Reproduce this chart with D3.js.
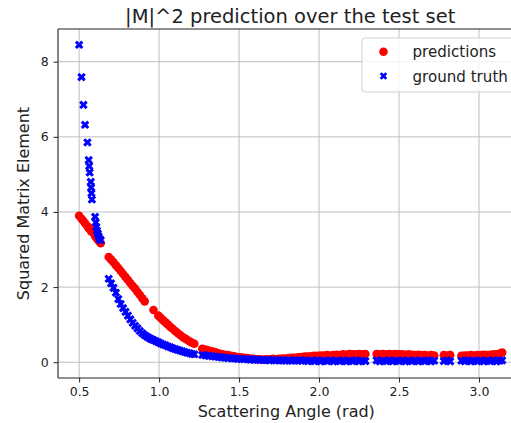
<!DOCTYPE html>
<html>
<head>
<meta charset="utf-8">
<script src="https://cdn.jsdelivr.net/npm/d3@7"></script>
<style>
  html, body { margin: 0; padding: 0; background: #fff; overflow: hidden; }
  svg { display: block; font-family: "DejaVu Sans", sans-serif; }
</style>
</head>
<body>
<div id="chart"></div>
<script>
// ---- data ----
const angles = [
  0.500, 0.515, 0.527, 0.537, 0.552, 0.560, 0.563, 0.566, 0.573, 0.575, 0.577, 0.580,
  0.600, 0.604, 0.608, 0.612, 0.617, 0.622, 0.628, 0.635,
  0.685, 0.700, 0.715, 0.730, 0.745, 0.760, 0.775, 0.790, 0.805, 0.820, 0.835, 0.850,
  0.865, 0.880, 0.895, 0.910, 0.925, 0.940, 0.953, 0.965, 0.980, 0.995,
  1.010, 1.025, 1.040, 1.055, 1.070, 1.085, 1.100, 1.115, 1.130, 1.145, 1.160, 1.175,
  1.190, 1.205, 1.220,
  1.27, 1.29, 1.31, 1.33, 1.35, 1.37, 1.39, 1.41, 1.43, 1.45, 1.47, 1.49, 1.51, 1.53,
  1.55, 1.57, 1.59, 1.61, 1.63, 1.65, 1.67, 1.69, 1.71, 1.73, 1.75, 1.77, 1.79, 1.81,
  1.83, 1.85, 1.87, 1.89, 1.91, 1.93, 1.95, 1.97, 1.99, 2.01, 2.03, 2.05, 2.07, 2.09,
  2.11, 2.13, 2.15, 2.17, 2.19, 2.21, 2.23, 2.25, 2.27, 2.29,
  2.36, 2.38, 2.40, 2.42, 2.44, 2.46, 2.48, 2.50, 2.52, 2.54, 2.56, 2.58, 2.60, 2.62,
  2.64, 2.66, 2.68, 2.70, 2.72,
  2.78, 2.80, 2.82,
  2.89, 2.91, 2.93, 2.95, 2.97, 2.99, 3.01, 3.03, 3.05, 3.07, 3.09, 3.11, 3.13, 3.145
];

const predictions = [
  3.90, 3.82, 3.76, 3.70, 3.62, 3.58, 3.56, 3.55, 3.51, 3.50, 3.49, 3.47,
  3.36, 3.34, 3.32, 3.30, 3.27, 3.24, 3.21, 3.17,
  2.80, 2.73, 2.66, 2.58, 2.51, 2.43, 2.35, 2.27, 2.19, 2.11, 2.03, 1.96,
  1.87, 1.79, 1.70, 1.62, null, null, null, 1.39, null, 1.24,
  1.18, 1.12, 1.06, 1.00, 0.94, 0.89, 0.83, 0.78, 0.73, 0.68, 0.64, 0.60,
  0.56, 0.52, 0.49,
  0.36, 0.34, 0.31, 0.29, 0.27, 0.24, 0.22, 0.20, 0.19, 0.17, 0.16, 0.14, 0.13, 0.12,
  0.11, 0.10, 0.09, 0.08, 0.08, 0.07, 0.08, 0.08, 0.09, 0.08, 0.09, 0.10, 0.10, 0.11,
  0.12, 0.12, 0.13, 0.14, 0.15, 0.15, 0.16, 0.17, 0.17, 0.18, 0.18, 0.19, 0.18, 0.19,
  0.20, 0.19, 0.21, 0.20, 0.22, 0.21, 0.21, 0.22, 0.21, 0.22,
  0.22, 0.21, 0.22, 0.21, 0.22, 0.21, 0.22, 0.21, 0.21, 0.20, 0.21, 0.20, 0.19, 0.20,
  0.19, 0.19, 0.18, 0.19, 0.18,
  0.19, 0.18, 0.19,
  0.17, 0.18, 0.18, 0.19, 0.18, 0.19, 0.19, 0.20, 0.19, 0.20, 0.21, 0.21, 0.23, 0.26
];

const groundTruth = [
  8.45, 7.59, 6.85, 6.32, 5.85, 5.38, 5.22, 5.05, 4.80, 4.65, 4.50, 4.33,
  3.87, 3.72, 3.60, 3.50, 3.42, 3.35, 3.28, 3.25,
  2.22, 2.10, 1.98, 1.85, 1.68, 1.55, 1.44, 1.34, 1.24, 1.14, 1.05, 0.97,
  0.90, 0.83, 0.77, 0.72, 0.68, 0.64, 0.61, 0.59, 0.56, 0.53,
  0.50, 0.47, 0.45, 0.42, 0.40, 0.37, 0.35, 0.33, 0.31, 0.29, 0.27, 0.25,
  0.24, 0.22, 0.21,
  0.19, 0.18, 0.17, 0.16, 0.15, 0.14, 0.13, 0.12, 0.11, 0.11, 0.10, 0.09, 0.09, 0.08,
  0.08, 0.07, 0.07, 0.07, 0.06, 0.06, 0.06, 0.05, 0.06, 0.05, 0.05, 0.05, 0.04, 0.05,
  0.04, 0.05, 0.04, 0.04, 0.05, 0.03, 0.04, 0.03, 0.05, 0.02, 0.04, 0.03, 0.05, 0.02,
  0.04, 0.03, 0.05, 0.02, 0.04, 0.03, 0.05, 0.02, 0.04, 0.03,
  0.05, 0.02, 0.04, 0.03, 0.05, 0.02, 0.04, 0.03, 0.05, 0.02, 0.04, 0.03, 0.05, 0.02,
  0.04, 0.03, 0.05, 0.02, 0.04,
  0.03, 0.05, 0.02,
  0.04, 0.03, 0.05, 0.02, 0.04, 0.03, 0.05, 0.02, 0.04, 0.03, 0.05, 0.02, 0.04, 0.05
];

const xTicks = [0.5, 1.0, 1.5, 2.0, 2.5, 3.0];
const yTicks = [0, 2, 4, 6, 8];
const xTickLabels = ["0.5", "1.0", "1.5", "2.0", "2.5", "3.0"];
const yTickLabels = ["0", "2", "4", "6", "8"];
const seriesNames = ["predictions", "ground truth"];
const seriesColors = ["#ff0000", "#0000ff"];
const titleText = "|M|^2 prediction over the test set";
const xLabelText = "Scattering Angle (rad)";
const yLabelText = "Squared Matrix Element";

// ---- layout ----
const W = 511, H = 423;
const plot = { left: 58, right: 522.5, top: 29, bottom: 378 };

const svg = d3.select("#chart").append("svg")
  .attr("width", W).attr("height", H);

const x = d3.scaleLinear().domain([0.368, 3.272]).range([plot.left, plot.right]);
const y = d3.scaleLinear().domain([-0.42, 8.87]).range([plot.bottom, plot.top]);

// grid
const grid = svg.append("g");
grid.selectAll("line.gx").data(xTicks).enter().append("line")
  .attr("x1", d => x(d)).attr("x2", d => x(d))
  .attr("y1", plot.top).attr("y2", plot.bottom)
  .attr("stroke", "#b0b0b0").attr("stroke-width", 1).attr("opacity", 0.8);
grid.selectAll("line.gy").data(yTicks).enter().append("line")
  .attr("x1", plot.left).attr("x2", plot.right)
  .attr("y1", d => y(d)).attr("y2", d => y(d))
  .attr("stroke", "#b0b0b0").attr("stroke-width", 1).attr("opacity", 0.8);

// points
const pts = angles.map((a, i) => ({ a, p: predictions[i], g: groundTruth[i] }));

svg.append("g").selectAll("circle").data(pts.filter(d => d.p !== null)).enter()
  .append("circle")
  .attr("cx", d => x(d.a)).attr("cy", d => y(d.p))
  .attr("r", 4.3).attr("fill", seriesColors[0]);

const xSym = d3.symbol().type(d3.symbolCross).size(46);
svg.append("g").selectAll("path").data(pts.filter(d => d.g !== null)).enter()
  .append("path")
  .attr("d", xSym)
  .attr("transform", d => `translate(${x(d.a)},${y(d.g)}) rotate(45)`)
  .attr("fill", seriesColors[1]);

// axes
const xAxis = d3.axisBottom(x).tickValues(xTicks).tickFormat((d, i) => xTickLabels[i])
  .tickSizeInner(4.5).tickSizeOuter(0).tickPadding(4.7);
const yAxis = d3.axisLeft(y).tickValues(yTicks).tickFormat((d, i) => yTickLabels[i])
  .tickSizeInner(4.5).tickSizeOuter(0).tickPadding(4.7);

const gx = svg.append("g").attr("transform", `translate(0,${plot.bottom})`).call(xAxis);
const gy = svg.append("g").attr("transform", `translate(${plot.left},0)`).call(yAxis);
[gx, gy].forEach(g => {
  g.select(".domain").remove();
  g.selectAll("text").attr("font-family", "DejaVu Sans").attr("font-size", 12.5).attr("fill", "#222");
  g.selectAll("line").attr("stroke", "#222").attr("stroke-width", 1);
});

// spines
[[plot.left, plot.top, plot.left, plot.bottom],
 [plot.left, plot.bottom, plot.right, plot.bottom],
 [plot.left, plot.top, plot.right, plot.top],
 [plot.right, plot.top, plot.right, plot.bottom]].forEach(s => {
  svg.append("line").attr("x1", s[0]).attr("y1", s[1]).attr("x2", s[2]).attr("y2", s[3])
    .attr("stroke", "#222").attr("stroke-width", 1.1);
});

// title & labels
svg.append("text").attr("x", (plot.left + plot.right) / 2).attr("y", 23)
  .attr("text-anchor", "middle").attr("font-size", 19.5).attr("fill", "#222").text(titleText);
svg.append("text").attr("x", (plot.left + plot.right) / 2 - 4).attr("y", 417)
  .attr("text-anchor", "middle").attr("font-size", 16).attr("fill", "#222").text(xLabelText);
svg.append("text")
  .attr("transform", `translate(29,${(plot.top + plot.bottom) / 2}) rotate(-90)`)
  .attr("text-anchor", "middle").attr("font-size", 16).attr("fill", "#222").text(yLabelText);

// legend
const lg = svg.append("g");
lg.append("rect").attr("x", 362).attr("y", 38).attr("width", 154).attr("height", 54)
  .attr("rx", 3).attr("fill", "#fff").attr("fill-opacity", 0.8)
  .attr("stroke", "#d0d0d0").attr("stroke-width", 1);
lg.append("circle").attr("cx", 383.5).attr("cy", 51.7).attr("r", 4.3).attr("fill", seriesColors[0]);
lg.append("path").attr("d", d3.symbol().type(d3.symbolCross).size(36))
  .attr("transform", "translate(383.5,76) rotate(45)")
  .attr("fill", seriesColors[1]);
lg.selectAll("text").data(seriesNames).enter().append("text")
  .attr("x", 412.5).attr("y", (d, i) => 56.7 + i * 25)
  .attr("font-size", 15.1).attr("fill", "#222").text(d => d);
</script>
</body>
</html>
